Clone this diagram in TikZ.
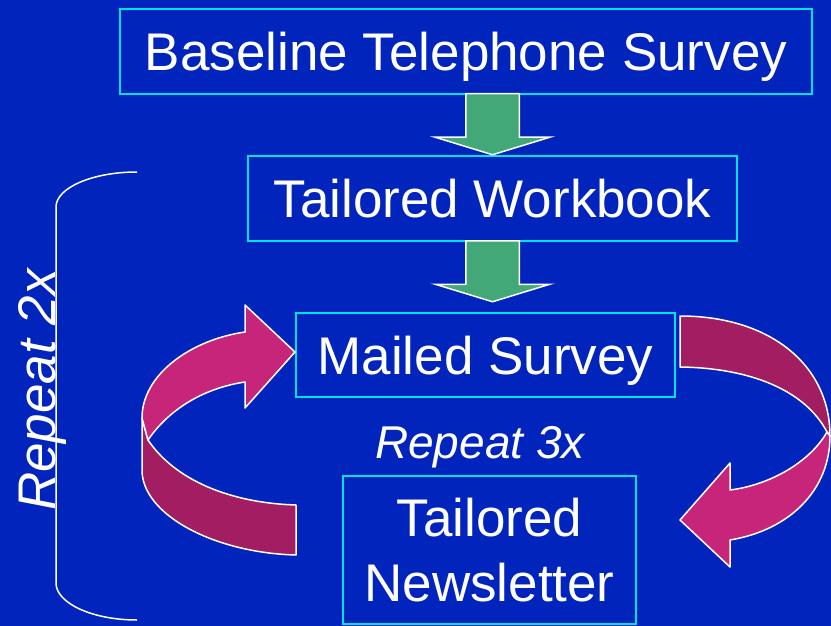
\documentclass[tikz,border=0pt]{standalone}
\usepackage{xcolor}
\usepackage{fontspec}
\setmainfont{Liberation Sans}
\usepackage{tikz}
\usetikzlibrary{shapes.arrows}

\definecolor{bgblue}{RGB}{0,36,188}
\definecolor{boxcyan}{RGB}{0,225,235}
\definecolor{stepgreen}{RGB}{66,168,120}
\definecolor{loopfront}{RGB}{198,37,122}
\definecolor{loopback}{RGB}{162,29,97}

\tikzset{
  stage/.style={draw=boxcyan, line width=2pt, text=white, inner sep=0pt,
    font=\fontsize{53}{65}\selectfont, text height=38pt, text depth=0pt, align=center},
  downarrow/.style={single arrow, draw=white, line width=1.5pt, fill=stepgreen,
    rotate=-90, minimum height=61pt, inner xsep=0pt, inner ysep=26pt,
    single arrow head extend=30.5pt, single arrow tip angle=146, anchor=tail},
  looplabel/.style={text=white, inner sep=0pt, font=\itshape\fontsize{46}{50}\selectfont,
    text height=33pt, text depth=0pt},
  ribbon/.style={draw=white, line width=1.5pt, line join=round},
}

\begin{document}
\begin{tikzpicture}[x=1pt,y=1pt,yscale=-1,xscale=1]
% background
\fill[bgblue] (0,0) rectangle (831,626);
\useasboundingbox (0,0) rectangle (831,626);

% boxes
\node[stage, minimum width=692pt, minimum height=85pt] (base) at (466,51.5) {Baseline Telephone Survey};
\node[stage, minimum width=489pt, minimum height=85pt] (work) at (492.5,198.5) {Tailored Workbook};
\node[stage, minimum width=379pt, minimum height=84pt] (mail) at (485.5,355) {Mailed Survey};
\node[stage, minimum width=293pt, minimum height=148pt, text height=103pt] (news) at (489.5,550) {Tailored\\Newsletter};

% block arrows
\node[downarrow] (arrA) at ([yshift=-2pt]work.north |- base.south) {};
\node[downarrow] (arrB) at ([yshift=-2pt]work.south) {};

% labels
\node[looplabel] (rep3) at (480,441.5) {Repeat 3x};
\node[looplabel, font=\itshape\fontsize{53}{60}\selectfont, text height=38pt, rotate=90] (rep2) at (36,390) {Repeat 2x};

% brace
\draw[white, line width=1.5pt] (137,172) .. controls (92,172) and (56,188) .. (56,207) -- (56,583) .. controls (56,603) and (92,620) .. (137,620);

% left loop arrow
\draw[ribbon, fill=loopback] (142,418) -- (142,470) .. controls (142,515) and (215,553) .. (296,555) -- (296,505) .. controls (230,503) and (175,480) .. (148,440) -- cycle;
\draw[ribbon, fill=loopfront] (295,352) -- (245,305) -- (245,332) .. controls (190,340) and (142,375) .. (142,418) -- (148,440) .. controls (170,408) and (205,388) .. (245,382) -- (245,408) -- cycle;

% right loop arrow
\draw[ribbon, fill=loopback] (680,316) .. controls (770,316) and (830,365) .. (830,436) -- (827,432) .. controls (805,390) and (750,368) .. (680,367) -- cycle;
\draw[ribbon, fill=loopfront] (680,520) -- (730,463) -- (730,490) .. controls (770,485) and (810,462) .. (827,432) -- (830,436) .. controls (830,490) and (790,530) .. (730,540) -- (730,567) -- cycle;

\end{tikzpicture}
\end{document}
